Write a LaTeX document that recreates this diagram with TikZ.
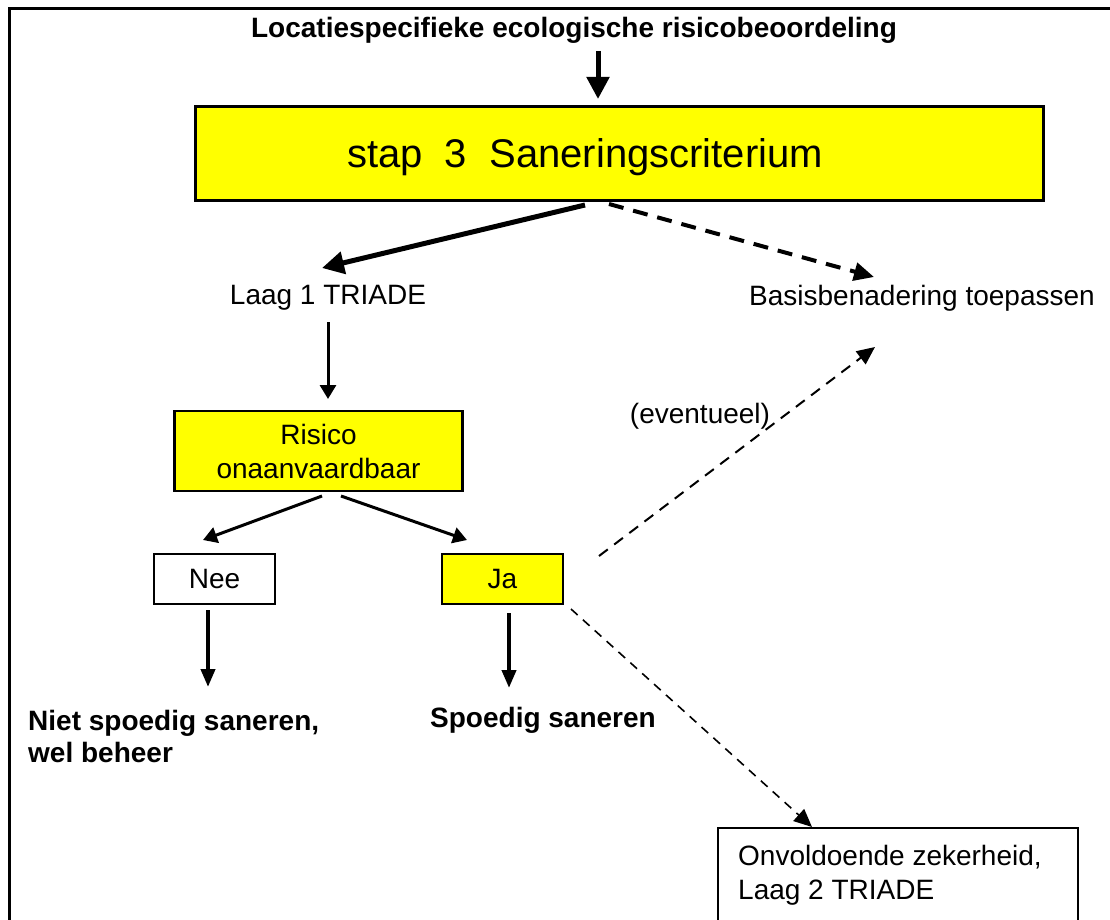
\documentclass[tikz,border=0pt]{standalone}
\usepackage{fontspec}
\setmainfont{Liberation Sans}
\usetikzlibrary{arrows.meta}
\definecolor{boxyellow}{RGB}{255,255,0}
\tikzset{
  txt/.style={inner sep=0pt, font=\fontsize{28}{34}\selectfont},
  btxt/.style={inner sep=0pt, font=\fontsize{28}{32}\selectfont\bfseries, align=left},
  ybox/.style={draw=black, line width=2.5pt, fill=boxyellow, inner sep=0pt},
  wbox/.style={draw=black, line width=2.5pt, fill=white, inner sep=0pt},
  bigarrow/.style={line width=5pt, -{Triangle[length=22pt,width=22pt]}},
  midarrow/.style={line width=4pt, -{Triangle[length=18pt,width=14pt]}},
  thinarrow/.style={line width=3pt, -{Triangle[length=14pt,width=16pt]}},
  dasharrow/.style={line width=4pt, dash pattern=on 15pt off 10pt, -{Triangle[length=20pt,width=18pt]}},
  ldasharrow/.style={line width=2pt, dash pattern=on 11pt off 8pt, -{Triangle[length=18pt,width=16pt]}},
  fdasharrow/.style={line width=1.6pt, dash pattern=on 9pt off 7pt, -{Triangle[length=18pt,width=16pt]}},
}
\begin{document}
\begin{tikzpicture}[x=1pt,y=-1pt]
\useasboundingbox (0,0) rectangle (1110,920);
\draw[line width=3pt] (9,9) rectangle (1130,940);

\node[btxt] (title) at (574,30) {Locatiespecifieke ecologische risicobeoordeling};

\node[ybox, line width=3pt, minimum width=848pt, minimum height=93pt] (stap) at (619,153.5) {};
\node[inner sep=0pt, font=\fontsize{40}{44}\selectfont] (staptxt) at (585,157) {stap\ \ 3\ \ Saneringscriterium};

\node[txt] (laag) at (328,298) {Laag 1 TRIADE};
\node[txt] (basis) at (922,298) {Basisbenadering toepassen};

\node[ybox, minimum width=288pt, minimum height=80pt, align=center, txt, line width=2.5pt, draw] (risico) at (318.5,451) {Risico\\onaanvaardbaar};

\node[wbox, minimum width=121pt, minimum height=50pt, txt, draw, line width=2.5pt] (nee) at (214.5,579) {Nee};
\node[ybox, minimum width=121pt, minimum height=50pt, txt, draw, line width=2.5pt] (ja) at (502.5,579) {Ja};

\node[btxt, anchor=west] (niet) at (28,736) {Niet spoedig saneren,\\wel beheer};
\node[btxt, anchor=west] (spoedig) at (430,720) {Spoedig saneren};

\node[txt] (event) at (700,416) {(eventueel)};

\node[wbox, line width=2pt, anchor=north west, minimum width=360pt, minimum height=150pt] (onv) at (717,827) {};
\node[txt, anchor=west, align=left] (onvtxt) at (738,875) {Onvoldoende zekerheid,\\Laag 2 TRIADE};

% connector end points
\coordinate (t1) at (598,51);
\coordinate (t2) at (598,99);
\coordinate (s1) at (585,205);
\coordinate (l1) at (322,268);
\coordinate (s2) at (609,204);
\coordinate (b1) at (874,277);
\coordinate (l2) at (328,322);
\coordinate (r1) at (328,399);
\coordinate (r2) at (322,496);
\coordinate (n1) at (203,540);
\coordinate (r3) at (341,496);
\coordinate (j1) at (467,540);
\coordinate (n2) at (208,610);
\coordinate (n3) at (208,687);
\coordinate (j2) at (509,613);
\coordinate (j3) at (509,688);
\coordinate (j4) at (599,556);
\coordinate (b2) at (875,347);
\coordinate (j5) at (571,609);
\coordinate (o1) at (812,827);

\draw[bigarrow] (t1) -- (t2);
\draw[bigarrow] (s1) -- (l1);
\draw[dasharrow] (s2) -- (b1);
\draw[thinarrow] (l2) -- (r1);
\draw[thinarrow] (r2) -- (n1);
\draw[thinarrow] (r3) -- (j1);
\draw[midarrow] (n2) -- (n3);
\draw[midarrow] (j2) -- (j3);
\draw[ldasharrow] (j4) -- (b2);
\draw[fdasharrow] (j5) -- (o1);
\end{tikzpicture}
\end{document}
